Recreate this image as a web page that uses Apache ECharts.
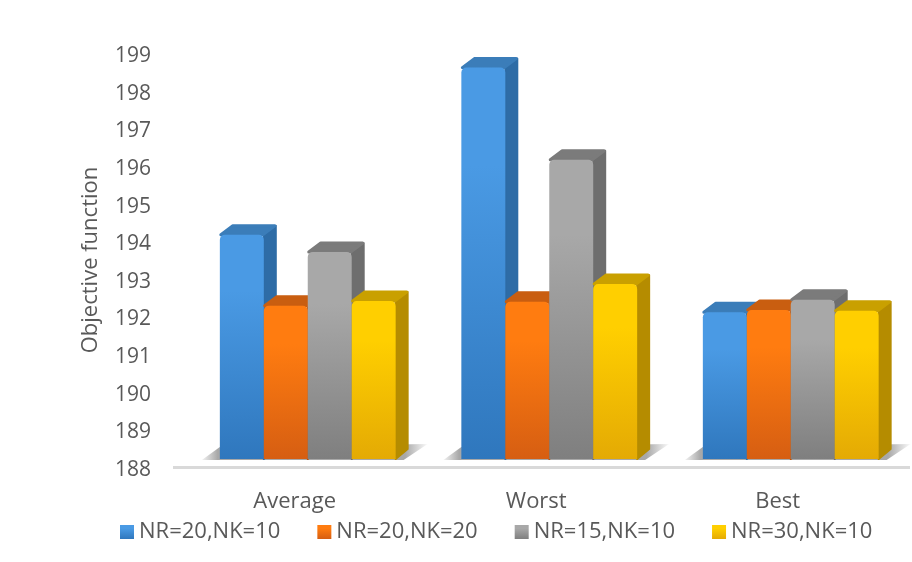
<!DOCTYPE html>
<html>
<head>
<meta charset="utf-8">
<script src="https://cdn.jsdelivr.net/npm/echarts@6/dist/echarts.min.js"></script>
<style>
html,body{margin:0;padding:0;background:#fff}
#chart{width:912px;height:562px}
</style>
</head>
<body>
<div id="chart"></div>
<script>
let categories = ["Average", "Worst", "Best"]
let seriesNames = ["NR=20,NK=10", "NR=20,NK=20", "NR=15,NK=10", "NR=30,NK=10"]
let nr20nk10 = [193.96, 198.4, 191.9]
let nr20nk20 = [192.07, 192.18, 191.96]
let nr15nk10 = [193.5, 195.95, 192.23]
let nr30nk10 = [192.2, 192.65, 191.94]
let yMin = 188
let yMax = 199

let allValues = [nr20nk10, nr20nk20, nr15nk10, nr30nk10]

// front light, front dark, side, top
let palette = [
    ["#4a9ae4", "#2f77bd", "#2e6ca6", "#3b7db9"],
    ["#ff7c10", "#d65e12", "#b4520e", "#c95e10"],
    ["#a8a8a8", "#7f7f7f", "#6e6e6e", "#7b7b7b"],
    ["#ffcf00", "#e4aa04", "#b58c00", "#c9a000"]
]

let depthX = 12
let depthY = 10
let floorGap = 11
let barRatio = 0.182
let barShift = 13

function grad(a, b){
    return new echarts.graphic.LinearGradient(0, 0, 0, 1, [
        {offset: 0, color: a},
        {offset: 0.25, color: a},
        {offset: 1, color: b}
    ])
}

function barItem(index, colors){
    return function(params, api){
        let band = api.size([1, 0])[0]
        let w = band * barRatio
        let top = api.coord([api.value(0), api.value(1)])
        let base = api.coord([api.value(0), yMin])
        let x = top[0] + barShift + (index - 2) * w
        let y = top[1] - floorGap
        let b = base[1] - floorGap
        let side = [[x + w, y], [x + w + depthX, y - depthY + 1], [x + w + depthX, b - depthY], [x + w, b]]
        let cap = [[x + 1, y], [x + depthX + 1, y - depthY + 1], [x + w + depthX - 1, y - depthY + 1], [x + w - 1, y]]
        return {
            type: "group",
            children: [
                {type: "polygon", shape: {points: side}, style: {fill: colors[2], stroke: colors[2], lineWidth: 2, lineJoin: "round"}},
                {type: "polygon", shape: {points: cap}, style: {fill: colors[3], stroke: colors[3], lineWidth: 3, lineJoin: "round"}},
                {type: "rect", shape: {x: x, y: y, width: w, height: b - y, r: [5, 5, 0, 0]}, style: {fill: grad(colors[0], colors[1])}}
            ]
        }
    }
}

// soft shadow under each group of bars
function shadowItem(params, api){
    let band = api.size([1, 0])[0]
    let w = band * barRatio
    let p = api.coord([api.value(0), yMin])
    let left = p[0] + barShift - 2 * w
    let right = p[0] + barShift + 2 * w
    let b = p[1] - floorGap
    return {
        type: "polygon",
        shape: {points: [[left - 18, b + 1], [left, b - 12], [right + 32, b - 15], [right + 8, b + 1]]},
        style: {
            fill: new echarts.graphic.LinearGradient(1, 0, 0, 0, [
                {offset: 0, color: "rgba(170,170,170,0.05)"},
                {offset: 0.1, color: "#a8a8a8"},
                {offset: 0.93, color: "#a8a8a8"},
                {offset: 1, color: "rgba(170,170,170,0.15)"}
            ])
        }
    }
}

let series = [{
    name: "shadow",
    type: "custom",
    renderItem: shadowItem,
    clip: false,
    silent: true,
    data: categories.map((c, i) => [i, yMin])
}]

seriesNames.forEach((name, s) => {
    series.push({
        name: name,
        type: "custom",
        renderItem: barItem(s, palette[s]),
        clip: false,
        itemStyle: {color: grad(palette[s][0], palette[s][1])},
        data: allValues[s].map((v, i) => [i, v])
    })
})

let myChart = echarts.init(document.getElementById("chart"))
myChart.setOption({
    backgroundColor: "#fff",
    animation: false,
    textStyle: {fontFamily: "Open Sans"},
    grid: {left: 174, top: 56, width: 724.5, height: 414},
    xAxis: {
        type: "category",
        data: categories,
        axisLine: {show: false},
        axisTick: {show: false},
        axisLabel: {color: "#595959", fontSize: 22, margin: 21, fontFamily: "Open Sans"}
    },
    yAxis: {
        type: "value",
        min: yMin,
        max: yMax,
        interval: 1,
        name: "Objective function",
        nameLocation: "middle",
        nameGap: 72,
        nameTextStyle: {color: "#595959", fontSize: 22, fontFamily: "Open Sans", padding: [0, 0, 0, 6]},
        axisLine: {show: false},
        axisTick: {show: false},
        splitLine: {show: false},
        axisLabel: {color: "#595959", fontSize: 21, margin: 23, fontFamily: "Open Sans"}
    },
    legend: {
        data: seriesNames,
        left: 115,
        top: 516,
        itemWidth: 14,
        itemHeight: 14,
        itemGap: 37,
        icon: "rect",
        textStyle: {color: "#595959", fontSize: 22, fontFamily: "Open Sans"}
    },
    graphic: [{
        type: "line",
        z: 0,
        shape: {x1: 173, y1: 467.5, x2: 910, y2: 467.5},
        style: {stroke: "#d9d9d9", lineWidth: 3}
    }],
    series: series
})
</script>
</body>
</html>
